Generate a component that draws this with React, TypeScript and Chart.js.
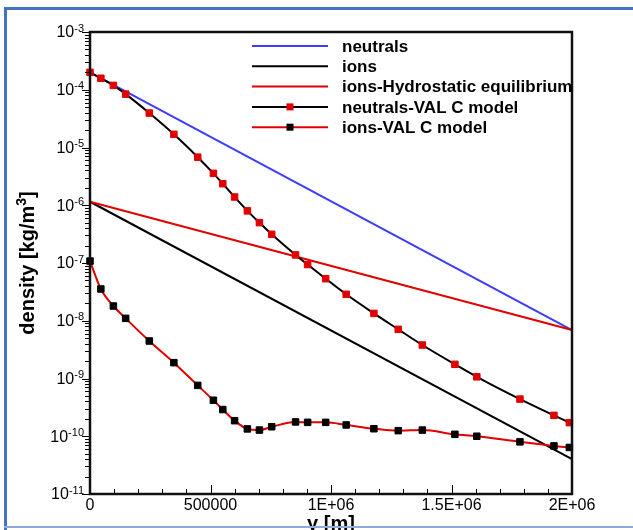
import React, { useEffect, useRef } from 'react';
import { Chart, registerables } from 'chart.js';

Chart.register(...registerables);

const FONT = "'Liberation Sans', Arial, Helvetica, sans-serif";

// ---- data ----
// altitudes of the VAL C model samples [m]
const valHeights = [
  0, 45000, 97000, 148000, 246000, 348000, 447000, 512000, 551000, 600000,
  653000, 703000, 754000, 853000, 903000, 978000, 1063000, 1178000, 1279000,
  1379000, 1514000, 1605000, 1784000, 1925000, 1989000,
];
// neutral density, VAL C model [kg/m^3]
const neutralsVAL = [
  2.0e-4, 1.58e-4, 1.19e-4, 8.4e-5, 3.95e-5, 1.69e-5, 6.8e-6, 3.57e-6, 2.36e-6,
  1.39e-6, 8.0e-7, 5.0e-7, 3.14e-7, 1.38e-7, 9.4e-8, 5.35e-8, 2.87e-8, 1.34e-8,
  7.1e-9, 3.8e-9, 1.76e-9, 1.07e-9, 4.4e-10, 2.3e-10, 1.72e-10,
];
// ion density, VAL C model [kg/m^3]
const ionsVAL = [
  1.08e-7, 3.55e-8, 1.8e-8, 1.1e-8, 4.46e-9, 1.88e-9, 7.6e-10, 4.2e-10, 2.9e-10,
  1.86e-10, 1.34e-10, 1.28e-10, 1.46e-10, 1.77e-10, 1.74e-10, 1.74e-10, 1.57e-10,
  1.35e-10, 1.25e-10, 1.28e-10, 1.08e-10, 1.0e-10, 8.0e-11, 6.8e-11, 6.4e-11,
];
// exponential model profiles (straight on the log axis): end points
const modelHeights = [0, 2000000];
const neutrals = [2.0e-4, 6.9e-9];
const ions = [1.15e-6, 4.0e-11];
const ionsHydrostatic = [1.15e-6, 6.9e-9];

const seriesLabels = [
  'neutrals',
  'ions',
  'ions-Hydrostatic equilibrium',
  'neutrals-VAL C model',
  'ions-VAL C model',
];

const xTickValues = [0, 500000, 1000000, 1500000, 2000000];
const xTickLabels = ['0', '500000', '1E+06', '1.5E+06', '2E+06'];
const xMinorStep = 100000;
const yTickValues = [1e-11, 1e-10, 1e-9, 1e-8, 1e-7, 1e-6, 1e-5, 1e-4, 1e-3];
const yTickBase = '10';
const yTickExponents = ['-11', '-10', '-9', '-8', '-7', '-6', '-5', '-4', '-3'];
const xTitle = 'y [m]';
const yTitleMain = 'density [kg/m';
const yTitleSup = '3';
const yTitleEnd = ']';

const toPoints = (xs: number[], ys: number[]) => xs.map((x, i) => ({ x, y: ys[i] }));

const framePlugin = {
  id: 'tecplotFrame',
  afterDatasetsDraw(chart: any) {
    const { ctx, chartArea: a, scales } = chart;
    const xs = scales.x;
    const ys = scales.y;
    ctx.save();
    ctx.strokeStyle = '#000';
    ctx.lineWidth = 1;
    // y ticks (outward), majors and minors
    const eMin = Math.round(Math.log10(yTickValues[0]));
    const eMax = Math.round(Math.log10(yTickValues[yTickValues.length - 1]));
    for (let e = eMin; e <= eMax; e++) {
      for (let m = 1; m <= 9; m++) {
        if (e === eMax && m > 1) break;
        const v = m * Math.pow(10, e);
        const py = Math.round(ys.getPixelForValue(v)) + 0.5;
        const len = m === 1 ? 8 : 5;
        ctx.beginPath();
        ctx.moveTo(a.left - len, py);
        ctx.lineTo(a.left, py);
        ctx.stroke();
      }
    }
    // y tick labels: 10 with superscript exponent
    ctx.fillStyle = '#000';
    yTickValues.forEach((v, i) => {
      const py = ys.getPixelForValue(v);
      const right = a.left - 6;
      ctx.font = `11px ${FONT}`;
      ctx.textAlign = 'right';
      ctx.textBaseline = 'alphabetic';
      const ew = ctx.measureText(yTickExponents[i]).width;
      ctx.fillText(yTickExponents[i], right, py - 0.5);
      ctx.font = `16px ${FONT}`;
      ctx.textBaseline = 'middle';
      ctx.fillText(yTickBase, right - ew, py + 1);
    });
    // x ticks (inward)
    const xmin = xTickValues[0];
    const xmax = xTickValues[xTickValues.length - 1];
    for (let v = xmin; v <= xmax + 1; v += xMinorStep) {
      const px = Math.round(xs.getPixelForValue(v)) + 0.5;
      const major = xTickValues.some((t) => Math.abs(t - v) < 1);
      const len = major ? 9 : 5;
      ctx.beginPath();
      ctx.moveTo(px, a.bottom);
      ctx.lineTo(px, a.bottom - len);
      ctx.stroke();
    }
    // plot frame
    ctx.lineWidth = 2.5;
    ctx.strokeStyle = '#111';
    ctx.strokeRect(a.left, a.top, a.right - a.left, a.bottom - a.top);

    // legend
    chart.data.datasets.forEach((ds: any, i: number) => {
      const yy = a.top + 14 + i * 20.3;
      ctx.strokeStyle = ds.borderColor;
      ctx.lineWidth = 2;
      ctx.beginPath();
      ctx.moveTo(a.left + 162, yy);
      ctx.lineTo(a.left + 238, yy);
      ctx.stroke();
      if (ds.pointRadius > 0) {
        ctx.fillStyle = ds.pointBackgroundColor;
        ctx.fillRect(a.left + 200 - 3.5, yy - 3.5, 7, 7);
      }
      ctx.fillStyle = '#000';
      ctx.font = `bold 17px ${FONT}`;
      ctx.textAlign = 'left';
      ctx.textBaseline = 'middle';
      ctx.fillText(ds.label, a.left + 252, yy + 1);
    });

    // axis titles
    ctx.fillStyle = '#000';
    ctx.save();
    ctx.font = `bold 20px ${FONT}`;
    const w1 = ctx.measureText(yTitleMain).width;
    const w3 = ctx.measureText(yTitleEnd).width;
    ctx.font = `bold 14px ${FONT}`;
    const w2 = ctx.measureText(yTitleSup).width;
    const total = w1 + w2 + w3;
    ctx.translate(34, (a.top + a.bottom) / 2);
    ctx.rotate(-Math.PI / 2);
    ctx.textAlign = 'left';
    ctx.textBaseline = 'alphabetic';
    ctx.font = `bold 20px ${FONT}`;
    ctx.fillText(yTitleMain, -total / 2, 0);
    ctx.fillText(yTitleEnd, -total / 2 + w1 + w2, 0);
    ctx.font = `bold 14px ${FONT}`;
    ctx.fillText(yTitleSup, -total / 2 + w1, -8);
    ctx.restore();
    ctx.font = `bold 20px ${FONT}`;
    ctx.textAlign = 'center';
    ctx.textBaseline = 'top';
    ctx.fillText(xTitle, (a.left + a.right) / 2, 514);

    // slide border
    const W = chart.width;
    const H = chart.height;
    ctx.fillStyle = '#4472c4';
    ctx.fillRect(4, 7, W - 4, 3);
    ctx.fillRect(4, 7, 3, H - 7);
    ctx.fillStyle = '#8faadc';
    ctx.fillRect(4, 526, W - 4, 2);
    ctx.restore();
  },
};

export default function App() {
  const ref = useRef<HTMLCanvasElement>(null);
  useEffect(() => {
    const canvas = ref.current;
    if (!canvas) return;
    const mk = (
      label: string,
      xsArr: number[],
      ysArr: number[],
      color: string,
      order: number,
      marker: string | null,
    ) => ({
      label,
      data: toPoints(xsArr, ysArr),
      borderColor: color,
      backgroundColor: color,
      borderWidth: 2,
      pointRadius: marker ? 4.6 : 0,
      pointHoverRadius: marker ? 4.6 : 0,
      pointStyle: 'rect',
      pointBackgroundColor: marker || color,
      pointBorderColor: marker || color,
      pointBorderWidth: 1,
      cubicInterpolationMode: marker ? 'monotone' : 'default',
      tension: 0,
      fill: false,
      clip: false,
      order,
    });
    const chart = new Chart(canvas, {
      type: 'line',
      data: {
        datasets: [
          mk(seriesLabels[0], modelHeights, neutrals, '#3c3cff', 5, null),
          mk(seriesLabels[1], modelHeights, ions, '#000000', 4, null),
          mk(seriesLabels[2], modelHeights, ionsHydrostatic, '#e00000', 3, null),
          mk(seriesLabels[3], valHeights, neutralsVAL, '#000000', 2, '#e00000'),
          mk(seriesLabels[4], valHeights, ionsVAL, '#e00000', 1, '#000000'),
        ] as any,
      },
      options: {
        responsive: false,
        animation: false,
        devicePixelRatio: 1,
        layout: { padding: { left: 0, top: 32, right: 61, bottom: 0 } },
        plugins: {
          legend: { display: false },
          tooltip: { enabled: false },
          title: { display: false },
        },
        scales: {
          x: {
            type: 'linear',
            min: xTickValues[0],
            max: xTickValues[xTickValues.length - 1],
            afterBuildTicks: (s: any) => {
              s.ticks = xTickValues.map((v) => ({ value: v }));
            },
            afterFit: (s: any) => {
              s.height = 36;
            },
            grid: { display: false, drawTicks: false },
            border: { display: false },
            ticks: {
              autoSkip: false,
              maxRotation: 0,
              padding: 2,
              color: '#000',
              font: { family: FONT, size: 16 },
              callback: (v: any) => {
                const i = xTickValues.findIndex((t) => Math.abs(t - Number(v)) < 1);
                return i >= 0 ? xTickLabels[i] : '';
              },
            },
          },
          y: {
            type: 'logarithmic',
            min: yTickValues[0],
            max: yTickValues[yTickValues.length - 1],
            afterBuildTicks: (s: any) => {
              s.ticks = yTickValues.map((v) => ({ value: v, major: true }));
            },
            afterFit: (s: any) => {
              s.width = 90;
            },
            grid: { display: false, drawTicks: false },
            border: { display: false },
            ticks: { display: false },
          },
        },
      } as any,
      plugins: [framePlugin],
    });
    return () => chart.destroy();
  }, []);
  return (
    <div
      style={{
        position: 'absolute',
        left: 0,
        top: 0,
        width: 633,
        height: 530,
        background: '#fff',
        overflow: 'hidden',
      }}
    >
      <canvas ref={ref} width={633} height={530} style={{ display: 'block', width: 633, height: 530 }} />
    </div>
  );
}
